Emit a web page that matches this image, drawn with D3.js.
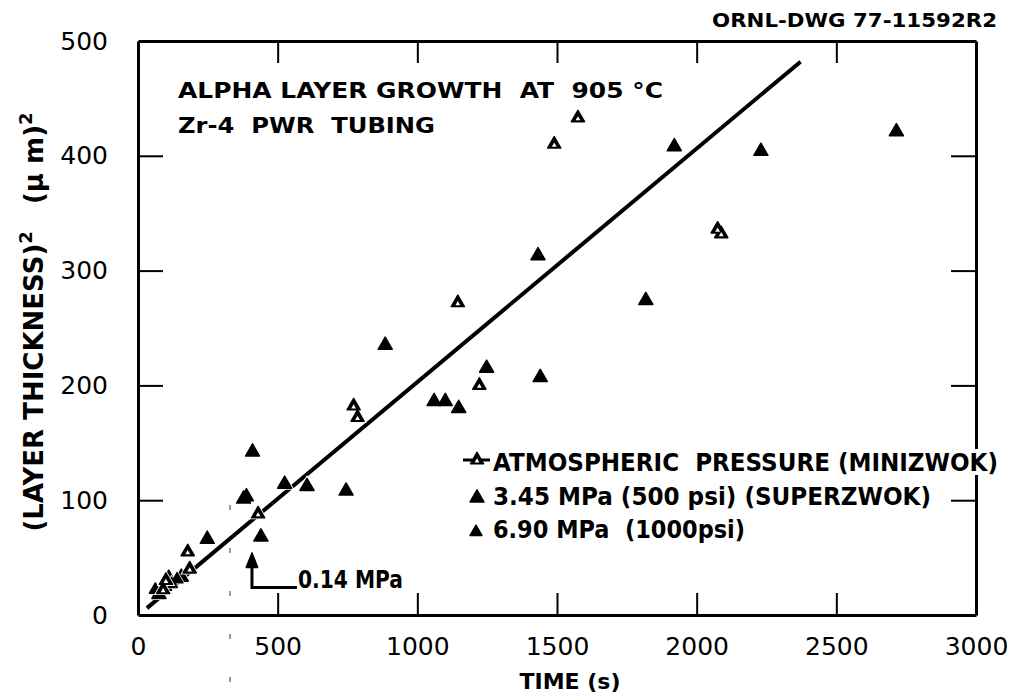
<html>
<head>
    <script src="https://d3js.org/d3.v7.min.js"></script>
    <style>
        body { margin: 0; background: #fff; }
        text { font-family: "DejaVu Sans", sans-serif; fill: #000; }
        .frame path.domain { stroke: #000; stroke-width: 3px; }
        .frame .tick line { stroke: #000; stroke-width: 2px; }
        .frame .tick text { font-size: 25px; }
        .lbl { font-weight: bold; }
    </style>
</head>
<body>
    <svg id="chart" width="1016" height="696"></svg>

    <script>
        // ---- data ----
        const xTicks = [0, 500, 1000, 1500, 2000, 2500, 3000];
        const yTicks = [0, 100, 200, 300, 400, 500];

        // atmospheric pressure (MINIZWOK) - open triangles
        const atmTime  = [1490, 1575, 2075, 2088, 1145, 1222, 772, 786, 430, 178, 185, 90, 100];
        const atmThick = [410, 433, 336, 332, 272, 200, 182, 172, 88, 55, 40, 22, 30];

        // 3.45 MPa (SUPERZWOK) - filled triangles
        const supTime  = [1920, 2230, 2715, 1818, 1432, 1440, 1248, 1148, 1060, 1100, 885, 745, 605, 525, 410, 378, 388, 440, 248, 155, 75, 95, 110];
        const supThick = [408, 404, 421, 274, 313, 207, 215, 180, 186, 186, 235, 108, 112, 114, 142, 101, 103, 68, 66, 33, 18, 25, 32];

        // 6.90 MPa - small filled triangles
        const hiTime  = [62, 120, 140];
        const hiThick = [22, 27, 31];

        // 0.14 MPa single point with leader
        const lowTime = [408];
        const lowThick = [44];
        const lowElbow = 24;    // leader bend (um^2)
        const lowEnd = 569;     // leader end (s)

        // fitted line
        const fitTime  = [32, 2372];
        const fitThick = [6, 482];

        const legendLabels = [
            "ATMOSPHERIC  PRESSURE (MINIZWOK)",
            "3.45 MPa (500 psi) (SUPERZWOK)",
            "6.90 MPa  (1000psi)"
        ];

        const svg = d3.select("#chart");
        const x = d3.scaleLinear().domain([0, 3000]).range([138, 976]);
        const y = d3.scaleLinear().domain([0, 500]).range([615, 41]);

        // scan artifact (faint fold line)
        svg.append("line")
            .attr("x1", 230).attr("x2", 230).attr("y1", 505).attr("y2", 696)
            .attr("stroke", "#555").attr("stroke-width", 1.2)
            .attr("stroke-dasharray", "5 38");

        // frame with inward ticks
        const fmt = d3.format("d");
        const frame = svg.append("g").attr("class", "frame");
        frame.append("g").attr("class", "bottom").attr("transform", "translate(0,615)")
            .call(d3.axisBottom(x).tickValues(xTicks).tickSize(-22).tickSizeOuter(0).tickPadding(22).tickFormat(fmt));
        frame.append("g").attr("transform", "translate(0,41)")
            .call(d3.axisTop(x).tickValues(xTicks.slice(1, -1)).tickSize(-22).tickSizeOuter(0).tickFormat(""));
        frame.append("g").attr("class", "left").attr("transform", "translate(138,0)")
            .call(d3.axisLeft(y).tickValues(yTicks).tickSize(-25).tickSizeOuter(0).tickPadding(30).tickFormat(fmt));
        frame.append("g").attr("transform", "translate(976,0)")
            .call(d3.axisRight(y).tickValues(yTicks.slice(1, -1)).tickSize(-25).tickSizeOuter(0).tickFormat(""));
        frame.selectAll(".tick text").attr("font-family", "DejaVu Sans").attr("fill", "#000");
        // no tick marks where the ticks meet the frame corners
        frame.select(".bottom").selectAll(".tick").filter(d => d === 0 || d === 3000).select("line").remove();
        frame.select(".left").selectAll(".tick").filter(d => d === 0 || d === 500).select("line").remove();

        // fitted line
        const line = d3.line().x(d => x(d[0])).y(d => y(d[1]));
        svg.append("path")
            .datum(d3.zip(fitTime, fitThick))
            .attr("d", line)
            .attr("fill", "none").attr("stroke", "#000").attr("stroke-width", 4);

        const tri = s => d3.symbol().type(d3.symbolTriangle).size(s)();
        const plot = svg.append("g");

        function markers(xs, ys, size, open) {
            const pts = d3.zip(xs, ys);
            const g = plot.append("g");
            g.selectAll("path.halo").data(pts).join("path")
                .attr("class", "halo")
                .attr("d", tri(size * 2))
                .attr("fill", "#fff")
                .attr("transform", d => `translate(${x(d[0])},${y(d[1])})`);
            g.selectAll("path.mk").data(pts).join("path")
                .attr("class", "mk")
                .attr("d", tri(size))
                .attr("fill", "#000").attr("stroke", "#000")
                .attr("stroke-width", 1.5).attr("stroke-linejoin", "round")
                .attr("transform", d => `translate(${x(d[0])},${y(d[1])})`);
            if (open) {
                g.selectAll("path.hole").data(pts).join("path")
                    .attr("class", "hole")
                    .attr("d", tri(10))
                    .attr("fill", "#fff")
                    .attr("transform", d => `translate(${x(d[0])},${y(d[1]) + 1})`);
            }
        }
        markers(supTime, supThick, 85, false);
        markers(hiTime, hiThick, 60, false);
        markers(atmTime, atmThick, 75, true);

        // 0.14 MPa point with leader
        lowTime.forEach((t, i) => {
            plot.append("path")
                .attr("d", `M${x(t)},${y(lowThick[i])}V${y(lowElbow)}H${x(lowEnd)}`)
                .attr("fill", "none").attr("stroke", "#000").attr("stroke-width", 3);
            plot.append("path")
                .attr("d", d3.symbol().type(d3.symbolTriangle).size(70)())
                .attr("fill", "#000").attr("stroke", "#000").attr("stroke-width", 1.5)
                .attr("stroke-linejoin", "round")
                .attr("transform", `translate(${x(t)},${y(lowThick[i]) - 2}) scale(0.9,1.3)`);
        });
        svg.append("text").attr("class", "lbl")
            .attr("x", 298).attr("y", 588)
            .attr("font-size", 24)
            .attr("textLength", 105).attr("lengthAdjust", "spacingAndGlyphs")
            .text("0.14 MPa");

        // legend
        const legY = [460, 498, 532];
        const legBase = [471, 505, 538];
        const leg = svg.append("g");
        leg.selectAll("text").data(legendLabels).join("text")
            .attr("class", "lbl")
            .attr("x", 493)
            .attr("y", (d, i) => legBase[i])
            .attr("font-size", 24)
            .attr("textLength", (d, i) => [505, 438, 252][i])
            .attr("lengthAdjust", "spacingAndGlyphs")
            .attr("stroke", "#fff").attr("stroke-width", 8)
            .attr("paint-order", "stroke")
            .style("white-space", "pre")
            .text(d => d);
        leg.append("line")
            .attr("x1", 463).attr("x2", 490).attr("y1", legY[0]).attr("y2", legY[0])
            .attr("stroke", "#000").attr("stroke-width", 3);
        leg.append("path").attr("d", tri(75)).attr("fill", "#000").attr("stroke", "#000")
            .attr("stroke-width", 1.5).attr("stroke-linejoin", "round")
            .attr("transform", `translate(477,${legY[0]})`);
        leg.append("path").attr("d", tri(10)).attr("fill", "#fff")
            .attr("transform", `translate(477,${legY[0] + 1})`);
        leg.append("path").attr("d", tri(85)).attr("fill", "#000").attr("stroke", "#000")
            .attr("stroke-width", 1.5).attr("stroke-linejoin", "round")
            .attr("transform", `translate(477,${legY[1]})`);
        leg.append("path").attr("d", tri(60)).attr("fill", "#000").attr("stroke", "#000")
            .attr("stroke-width", 1.5).attr("stroke-linejoin", "round")
            .attr("transform", `translate(476,${legY[2]})`);

        // titles
        svg.append("text").attr("class", "lbl")
            .attr("x", 712).attr("y", 27).attr("font-size", 19)
            .attr("textLength", 285).attr("lengthAdjust", "spacingAndGlyphs")
            .text("ORNL-DWG 77-11592R2");
        svg.append("text").attr("class", "lbl")
            .attr("x", 178).attr("y", 98).attr("font-size", 21)
            .attr("textLength", 485).attr("lengthAdjust", "spacingAndGlyphs")
            .style("white-space", "pre")
            .text("ALPHA LAYER GROWTH  AT  905 °C");
        svg.append("text").attr("class", "lbl")
            .attr("x", 178).attr("y", 133).attr("font-size", 21)
            .attr("textLength", 257).attr("lengthAdjust", "spacingAndGlyphs")
            .style("white-space", "pre")
            .text("Zr-4  PWR  TUBING");

        svg.append("text").attr("class", "lbl")
            .attr("x", 570).attr("y", 689).attr("font-size", 22)
            .attr("text-anchor", "middle")
            .text("TIME (s)");

        const yt = svg.append("text").attr("class", "lbl")
            .attr("transform", "translate(43,322) rotate(-90)")
            .attr("text-anchor", "middle")
            .attr("font-size", 26)
            .style("white-space", "pre");
        yt.append("tspan").text("(LAYER THICKNESS)");
        yt.append("tspan").attr("dy", -11).attr("font-size", 18).text("2");
        yt.append("tspan").attr("dy", 11).text("   (\u03bc m)");
        yt.append("tspan").attr("dy", -11).attr("font-size", 18).text("2");
    </script>
</body>
</html>
